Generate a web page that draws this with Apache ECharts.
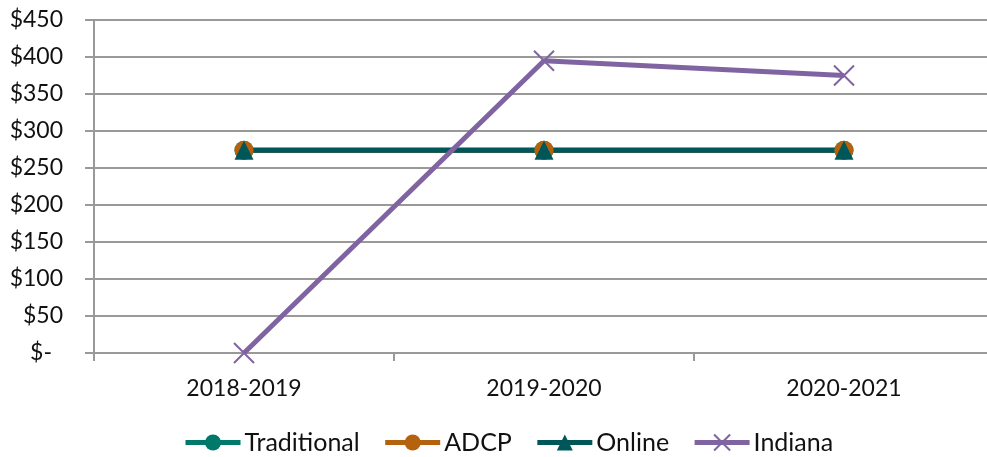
<!DOCTYPE html>
<html><head><meta charset="utf-8">
<script src="https://cdn.jsdelivr.net/npm/echarts@6/dist/echarts.min.js"></script>
<style>html,body{margin:0;padding:0;background:#fff}#c{width:987px;height:457px}</style>
</head><body><div id="c"></div>
<script>
const categories = ['2018-2019', '2019-2020', '2020-2021'];
const traditional = [274, 274, 274];
const adcp = [274, 274, 274];
const online = [274, 274, 274];
const indiana = [0, 395, 375];
const yTicks = [0, 50, 100, 150, 200, 250, 300, 350, 400, 450];

const font = 'Lato, "Open Sans", sans-serif';
const chart = echarts.init(document.getElementById('c'));
function ser(name, data, color, symbol, size) {
  return {
    name, type: 'line', data, symbol, symbolSize: size,
    lineStyle: { color, width: 5 },
    itemStyle: { color, borderWidth: 0 },
    animation: false
  };
}
chart.setOption({
  animation: false,
  grid: { left: 94, width: 900, top: 20, bottom: 104, outerBoundsMode: 'none', containLabel: false },
  legend: {
    top: 430, left: 183, padding: 0, itemWidth: 55, itemHeight: 20, itemGap: 23,
    lineStyle: { width: 5 },
    textStyle: { fontFamily: font, fontSize: 25, color: '#111', padding: [0, 0, 0, -1] },
    data: ['Traditional', 'ADCP', 'Online', 'Indiana']
  },
  xAxis: {
    type: 'category', data: categories, boundaryGap: true,
    axisLine: { lineStyle: { color: '#999', width: 2 } },
    axisTick: { show: true, length: 8, lineStyle: { color: '#999', width: 2 } },
    axisLabel: { margin: 24, fontFamily: font, fontSize: 23, color: '#111' }
  },
  yAxis: {
    type: 'value', min: yTicks[0], max: yTicks[yTicks.length - 1], interval: 50,
    axisLine: { show: true, lineStyle: { color: '#999', width: 2 } },
    axisTick: { show: true, length: 9, lineStyle: { color: '#999', width: 2 } },
    splitLine: { lineStyle: { color: '#999', width: 2 } },
    axisLabel: {
      margin: 31, fontFamily: font, fontSize: 23, color: '#111',
      formatter: v => v === 0 ? '{d|$-}' : '$' + v,
      rich: { d: { fontFamily: font, fontSize: 23, color: '#111', padding: [0, 11, 0, 0] } }
    }
  },
  series: [
    ser('Traditional', traditional, '#00796B', 'circle', 19),
    ser('ADCP', adcp, '#B5620F', 'circle', 19),
    ser('Online', online, '#00575A', 'triangle', 19),
    ser('Indiana', indiana, '#8064A2', 'path://M0,0L10,10M10,0L0,10', 20)
  ]
});
chart.setOption({ series: [{}, {}, {}, { itemStyle: { color: 'none', borderColor: '#8064A2', borderWidth: 2 } }] });
</script></body></html>
